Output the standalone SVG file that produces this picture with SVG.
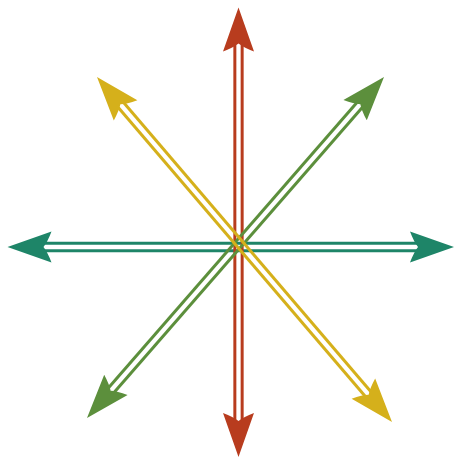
<svg xmlns="http://www.w3.org/2000/svg" width="454" height="458" viewBox="0 0 454 458">
  <style>
    .ln { fill: none; stroke-width: 3; stroke-linecap: butt; }
    .teal { stroke: #1e8568; fill: #1e8568; }
    .red { stroke: #b83c1e; fill: #b83c1e; }
    .green { stroke: #5c8f3c; fill: #5c8f3c; }
    .yellow { stroke: #d5b01b; fill: #d5b01b; }
    .head { stroke: none; }
  </style>
  <defs>
    <path id="ah" d="M0,0 L-44,-15.5 Q-40,-5 -36,0 Q-40,5 -44,15.5 Z"/>
  </defs>
  <rect width="454" height="458" fill="#ffffff"/>
  <g id="connectors">
    <g id="axis-horizontal" class="teal">
      <line class="ln teal" x1="44.5" y1="243.35" x2="417" y2="243.35"/>
      <line class="ln teal" x1="44.5" y1="250.65" x2="417" y2="250.65"/>
      <use href="#ah" class="head teal" transform="translate(7.5,247) rotate(180)"/>
      <use href="#ah" class="head teal" transform="translate(454,247)"/>
    </g>
    <g id="axis-vertical" class="red">
      <line class="ln red" x1="234.85" y1="44.5" x2="234.85" y2="420"/>
      <line class="ln red" x1="242.15" y1="44.5" x2="242.15" y2="420"/>
      <use href="#ah" class="head red" transform="translate(238.5,7.5) rotate(-90)"/>
      <use href="#ah" class="head red" transform="translate(238.5,457) rotate(90)"/>
    </g>
    <g id="axis-green" class="green">
      <line class="ln green" x1="356.95" y1="102.5" x2="108.55" y2="387.7"/>
      <line class="ln green" x1="362.45" y1="107.3" x2="114.05" y2="392.5"/>
      <use href="#ah" class="head green" transform="translate(384,77) rotate(-48.94)"/>
      <use href="#ah" class="head green" transform="translate(87,418) rotate(131.06)"/>
    </g>
    <g id="axis-yellow" class="yellow">
      <line class="ln yellow" x1="118.28" y1="107.49" x2="365.18" y2="396.25"/>
      <line class="ln yellow" x1="123.82" y1="102.75" x2="370.72" y2="391.51"/>
      <use href="#ah" class="head yellow" transform="translate(97,77) rotate(229.47)"/>
      <use href="#ah" class="head yellow" transform="translate(392,422) rotate(49.47)"/>
    </g>
  </g>
</svg>
